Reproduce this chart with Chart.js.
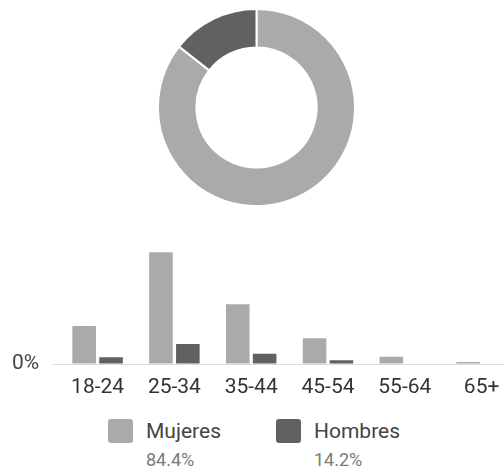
<!DOCTYPE html>
<html>
<head>
<meta charset="utf-8">
<script src="https://cdn.jsdelivr.net/npm/chart.js@4/dist/chart.umd.min.js"></script>
<style>
  html, body { margin: 0; padding: 0; background: #fff; overflow: hidden; width: 504px; height: 468px; position: relative; font-family: Roboto, sans-serif; }
  #donutBox { position: absolute; left: 157px; top: 8px; width: 199px; height: 199px; }
  #barBox { position: absolute; left: 0; top: 248px; width: 520px; height: 162px; }
  .sw { position: absolute; width: 25px; height: 24px; border-radius: 3px; }
  .lbl { position: absolute; font-size: 21px; color: #444; line-height: 1; }
  .pct { position: absolute; font-size: 18px; color: #7a7a7a; line-height: 1; }
</style>
</head>
<body>
<div id="donutBox"><canvas id="donut"></canvas></div>
<div id="barBox"><canvas id="bars"></canvas></div>
<div id="legend"></div>
<script>
// Data
const genders = ['Mujeres', 'Hombres'];
const genderShare = [84.4, 14.2];
const genderColors = ['#aaaaaa', '#616161'];

const ageGroups = ['18-24', '25-34', '35-44', '45-54', '55-64', '65+'];
const mujeres = [13.1, 38.5, 20.6, 8.9, 2.5, 0.7];
const hombres = [2.3, 6.9, 3.5, 1.3, 0, 0];

// Donut
new Chart(document.getElementById('donut'), {
  type: 'doughnut',
  data: {
    labels: genders,
    datasets: [{
      data: genderShare,
      backgroundColor: genderColors,
      borderColor: '#ffffff',
      borderWidth: 2
    }]
  },
  options: {
    responsive: true,
    maintainAspectRatio: false,
    animation: false,
    cutout: '61%',
    layout: { padding: 0 },
    plugins: { legend: { display: false }, tooltip: { enabled: false } }
  }
});

// Bars
const BASE_Y = 116; // baseline inside bar canvas
new Chart(document.getElementById('bars'), {
  type: 'bar',
  data: {
    labels: ageGroups,
    datasets: [
      { label: genders[0], data: mujeres, backgroundColor: genderColors[0] },
      { label: genders[1], data: hombres, backgroundColor: genderColors[1] }
    ]
  },
  options: {
    responsive: true,
    maintainAspectRatio: false,
    animation: false,
    layout: { padding: 0 },
    categoryPercentage: 0.70,
    barPercentage: 0.877,
    plugins: { legend: { display: false }, tooltip: { enabled: false } },
    scales: {
      x: {
        grid: { display: false, drawTicks: false },
        border: { display: false },
        ticks: { color: '#333', padding: 11, font: { family: 'Roboto', size: 21 } },
        afterFit: s => { s.height = 162 - BASE_Y; s.paddingLeft = 0; s.paddingRight = 0; }
      },
      y: {
        min: 0,
        max: 40,
        border: { display: false },
        grid: { color: '#dddddd', tickLength: 7, lineWidth: 1 },
        ticks: {
          padding: 13,
          color: '#444',
          font: { family: 'Roboto', size: 21 },
          callback: v => v + '%'
        },
        afterBuildTicks: s => { s.ticks = [{ value: 0 }]; },
        afterFit: s => { s.width = 59.2; s.paddingTop = 0; s.paddingBottom = 0; }
      }
    }
  }
});

// Legend (HTML)
const legend = document.getElementById('legend');
const legendX = [108, 276];
genders.forEach((g, i) => {
  const sw = document.createElement('div');
  sw.className = 'sw';
  sw.style.left = legendX[i] + 'px';
  sw.style.top = '419px';
  sw.style.background = genderColors[i];
  legend.appendChild(sw);
  const t = document.createElement('div');
  t.className = 'lbl';
  t.style.left = (legendX[i] + 38) + 'px';
  t.style.top = '420.5px';
  t.textContent = g;
  legend.appendChild(t);
  const p = document.createElement('div');
  p.className = 'pct';
  p.style.left = (legendX[i] + 38) + 'px';
  p.style.top = '450.5px';
  p.textContent = genderShare[i].toFixed(1) + '%';
  legend.appendChild(p);
});
</script>
</body>
</html>
